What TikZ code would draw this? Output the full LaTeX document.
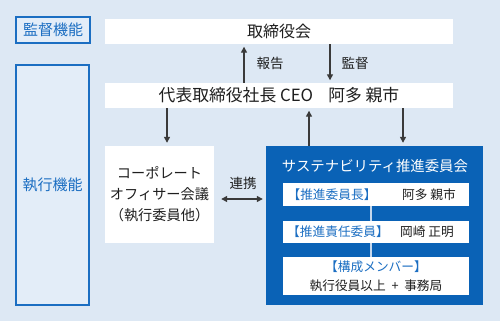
\documentclass[tikz,border=0pt]{standalone}
\usepackage{fontspec}
\setmainfont{Noto Sans CJK JP}
\usetikzlibrary{arrows.meta}
\definecolor{bgblue}{HTML}{DDE8F4}
\definecolor{lblue}{HTML}{E3EDF8}
\definecolor{mblue}{HTML}{1B6EC2}
\definecolor{dblue}{HTML}{0A62B6}
\definecolor{txt}{HTML}{1E1E1E}
\definecolor{arr}{HTML}{3A3A3A}
\definecolor{conn}{HTML}{C5D7EC}
\tikzset{
  big/.style={font=\fontsize{16}{20}\selectfont},
  corpf/.style={font=\fontsize{14.2}{21}\selectfont},
  mid/.style={font=\fontsize{13.5}{16}\selectfont},
  small/.style={font=\fontsize{12.7}{19}\selectfont},
  funcbox/.style={draw=mblue, line width=1.2pt, fill=lblue, text=mblue, font=\fontsize{15}{18}\selectfont, inner sep=0pt},
  whitebox/.style={fill=white, draw=none, text=txt, big, inner sep=0pt},
  innerbox/.style={fill=white, draw=none, inner sep=0pt},
  arrline/.style={draw=arr, line width=1.3pt, -{Triangle[length=6pt,width=6pt]}},
  dblline/.style={draw=arr, line width=1.3pt, {Triangle[length=6pt,width=6pt]}-{Triangle[length=6pt,width=6pt]}},
  lbl/.style={text=txt, mid, inner sep=0pt},
  connline/.style={draw=conn, line width=1.6pt}
}
\begin{document}
\begin{tikzpicture}[x=1pt,y=-1pt]
\fill[bgblue] (0,0) rectangle (500,321);
\useasboundingbox (0,0) rectangle (500,321);

% function labels
\node[funcbox, minimum width=74pt, minimum height=26pt] (kansa) at (53,30) {監督機能};
\node[funcbox, minimum width=73pt, minimum height=240pt] (shikko) at (52.5,185) {執行機能};

% board
\node[whitebox, minimum width=348pt, minimum height=25pt] (board) at (279,31.5) {取締役会};
\node[whitebox, minimum width=348pt, minimum height=25pt, font=\fontsize{16.8}{20}\selectfont] (ceo) at (279,95.5) {代表取締役社長 CEO\hspace{0.9em}阿多 親市};

% corporate officer meeting
\node[whitebox, corpf, minimum width=109pt, minimum height=97pt, align=center] (corp) at (159.5,194.5)
  {コーポレート\\オフィサー会議\\（執行委員他）};

% sustainability committee
\node[fill=dblue, draw=none, minimum width=217pt, minimum height=159pt, inner sep=0pt] (blue) at (374.5,225.5) {};
\node[text=white, font=\fontsize{14.4}{18}\selectfont, inner sep=0pt] (title) at (375,166.5) {サステナビリティ推進委員会};

\node[innerbox, minimum width=186pt, minimum height=23pt] (in1) at (376,194.5) {};
\node[innerbox, minimum width=186pt, minimum height=22pt] (in2) at (376,232) {};
\node[innerbox, small, minimum width=186pt, minimum height=38pt, align=center] (in3) at (376,276)
  {\textcolor{mblue}{【構成メンバー】}\\\textcolor{txt}{執行役員以上\hspace{0.45em}+\hspace{0.45em}事務局}};

\node[small, text=mblue, inner sep=0pt] (r1) at (332,194.5) {【推進委員長】};
\node[small, text=txt, inner sep=0pt] (n1) at (429,194.5) {阿多 親市};
\node[small, text=mblue, inner sep=0pt] (r2) at (338,232) {【推進責任委員】};
\node[small, text=txt, inner sep=0pt] (n2) at (427,232) {岡崎 正明};

\draw[connline] (in1.south -| 371,0) -- (in2.north -| 371,0);
\draw[connline] (in2.south -| 371,0) -- (in3.north -| 371,0);

% arrows
\coordinate (xa) at (244,0);
\coordinate (xb) at (330,0);
\coordinate (xc) at (167,0);
\coordinate (xd) at (309,0);
\coordinate (xe) at (403,0);
\coordinate (ya) at (0,199);
\draw[arrline, shorten >=2.5pt] (xa |- ceo.north) -- (xa |- board.south);
\draw[arrline, shorten >=2.5pt] (xb |- board.south) -- (xb |- ceo.north);
\draw[arrline, shorten >=3pt] (xc |- ceo.south) -- (xc |- corp.north);
\draw[arrline, shorten >=2.5pt] (xd |- blue.north) -- (xd |- ceo.south);
\draw[arrline, shorten >=3pt] (xe |- ceo.south) -- (xe |- blue.north);
\draw[dblline, shorten <=7pt, shorten >=3pt] (corp.east |- ya) -- (blue.west |- ya);

\node[lbl] (hokoku) at (270,63) {報告};
\node[lbl] (kantoku) at (355,63) {監督};
\node[lbl] (renkei) at (243,183) {連携};
\end{tikzpicture}
\end{document}
